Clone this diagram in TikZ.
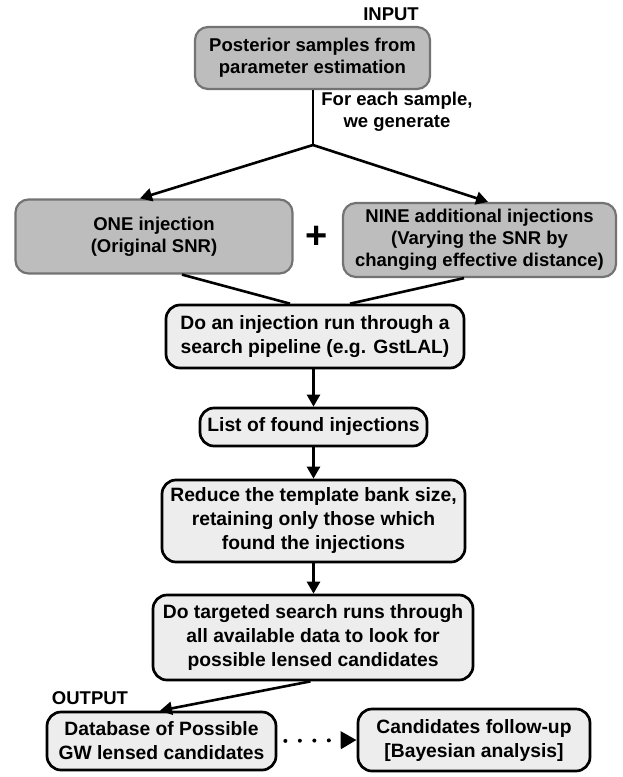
\documentclass[tikz,border=0pt]{standalone}
\usepackage{fontspec}
\setmainfont{Liberation Sans}
\usetikzlibrary{arrows.meta}

\begin{document}
\begin{tikzpicture}[x=1pt,y=-1pt]
		\useasboundingbox (0,0) rectangle (623,777);
		\tikzstyle{txt}=[align=center,inner sep=0pt,font=\bfseries\fontsize{18.5}{22}\selectfont]
		\tikzstyle{dark}=[txt,draw=black!55,fill=black!26,line width=2.2pt,rounded corners=13pt]
		\tikzstyle{light}=[txt,draw=black,fill=black!7,line width=2.7pt,rounded corners=14pt,font=\bfseries\fontsize{19.3}{24}\selectfont]
		\tikzstyle{link}=[line width=2.6pt,-{Triangle[length=12pt,width=13pt]}]
		\node[txt] (lbl_in) at (391,14) {INPUT};
		\node[dark,minimum width=235,minimum height=62] (b_1) at (312.5,58) {Posterior samples from\\parameter estimation};
		\coordinate (split) at (313,145);
		\node[txt] (lbl_each) at (397,112) {For each sample,\\we generate};
		\node[dark,minimum width=277,minimum height=74] (b_2) at (154,236.5) {ONE injection\\(Original SNR)};
		\node[txt,font=\bfseries\fontsize{38}{38}\selectfont] (plus) at (317,237) {+};
		\node[dark,minimum width=273,minimum height=74] (b_3) at (479.5,240) {NINE additional injections\\(Varying the SNR by\\changing effective distance)};
		\node[light,minimum width=298,minimum height=63] (b_4) at (315,336.5) {Do an injection run through a\\search pipeline (e.g. GstLAL)};
		\node[light,minimum width=227,minimum height=38] (b_5) at (313.5,427) {List of found injections};
		\node[light,minimum width=303,minimum height=82] (b_6) at (313.5,521) {Reduce the template bank size,\\retaining only those which\\found the injections};
		\node[light,minimum width=320,minimum height=85] (b_7) at (313,637.5) {Do targeted search runs through\\all available data to look for\\possible lensed candidates};
		\node[txt] (lbl_out) at (90,698) {OUTPUT};
		\node[light,minimum width=229,minimum height=58] (b_8) at (161.5,741) {Database of Possible\\GW lensed candidates};
		\node[light,minimum width=232,minimum height=62] (b_9) at (474,740) {Candidates follow-up\\{[Bayesian analysis]}};
		\draw[line width=2.6pt] (b_1.south -| split) -- (split);
		\draw[link] (split) -- ([xshift=-14pt]b_2.north);
		\draw[link] (split) -- ([xshift=8.5pt]b_3.north);
		\draw[line width=2.6pt] ([xshift=28pt]b_2.south) -- ([xshift=-25pt]b_4.north);
		\draw[line width=2.6pt] ([xshift=-15.5pt]b_3.south) -- ([xshift=35pt]b_4.north);
		\draw[link] (b_4.south -| b_5.north) -- (b_5.north);
		\draw[link] (b_5) -- (b_6);
		\draw[link] (b_6.south) -- (b_7.north -| b_6.south);
		\draw[link] ([xshift=-2.5pt]b_7.south) -- ([xshift=-1.5pt]b_8.north);
		\draw[line width=4pt,line cap=round,dash pattern=on 0pt off 14.5pt,-{Triangle[length=16pt,width=17pt]},shorten <=8pt] (b_8.east) -- (b_9.west);
	\end{tikzpicture}
\end{document}
